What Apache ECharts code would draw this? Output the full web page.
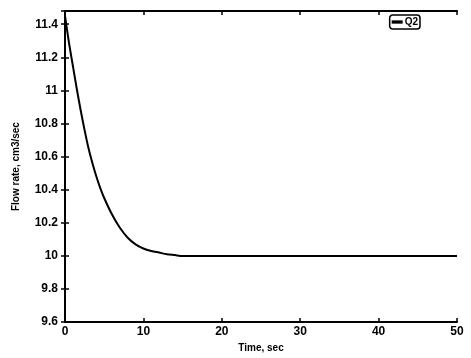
<!DOCTYPE html>
<html>
<head>
<meta charset="utf-8">
<script src="https://cdn.jsdelivr.net/npm/echarts@6/dist/echarts.min.js"></script>
<style>html,body{margin:0;padding:0;background:#fff;}#c{width:471px;height:358px;}</style>
</head>
<body>
<div id="c"></div>
<script>
var timeSec = [0, 0.5, 1, 1.5, 2, 2.5, 3, 3.5, 4, 4.5, 5, 6, 7, 8, 9, 10, 11, 12, 13, 14, 15, 20, 30, 40, 50];
var flowQ2 = [11.45, 11.29, 11.15, 11.01, 10.88, 10.76, 10.65, 10.56, 10.48, 10.41, 10.35, 10.25, 10.17, 10.11, 10.07, 10.045, 10.03, 10.02, 10.01, 10.005, 10.0, 10.0, 10.0, 10.0, 10.0];
var seriesName = 'Q2';
var xTicks = [0, 10, 20, 30, 40, 50];
var yTicks = [9.6, 9.8, 10, 10.2, 10.4, 10.6, 10.8, 11, 11.2, 11.4];

var chart = echarts.init(document.getElementById('c'));
var lbl = {fontFamily: 'Liberation Sans', fontWeight: 'bold', fontSize: 12, color: '#000'};
var pts = timeSec.map(function (t, i) { return [t, flowQ2[i]]; });
chart.setOption({
  animation: false,
  backgroundColor: '#fff',
  grid: {left: 65, right: 14, top: 11, bottom: 33},
  legend: {
    right: 51, top: 15, itemWidth: 11, itemHeight: 6, itemGap: 1, padding: [2, 2],
    borderColor: '#000', borderWidth: 1.5, borderRadius: 3,
    textStyle: {fontFamily: 'Liberation Sans', fontWeight: 'bold', fontSize: 10, color: '#000', padding: [0,0,0,-3]},
    data: [{name: seriesName, icon: 'path://M0,0H1V0.3H0Z'}]
  },
  xAxis: [{
    type: 'value', min: 0, max: 50, interval: 10,
    name: 'Time, sec', nameLocation: 'middle', nameGap: 20,
    nameTextStyle: {fontFamily: 'Liberation Sans', fontWeight: 'bold', fontSize: 10, color: '#000'},
    axisLine: {lineStyle: {color: '#000', width: 2}},
    axisTick: {inside: true, length: 4, lineStyle: {color: '#000', width: 1.5}},
    axisLabel: Object.assign({margin: 4}, lbl),
    splitLine: {show: false}
  }, {
    type: 'value', min: 0, max: 50, interval: 10, position: 'top',
    axisLine: {lineStyle: {color: '#000', width: 2}},
    axisTick: {inside: true, length: 4, lineStyle: {color: '#000', width: 1.5}},
    axisLabel: {show: false}, splitLine: {show: false}
  }],
  yAxis: [{
    type: 'value', min: 9.6, max: 11.48, interval: 0.2,
    name: 'Flow rate, cm3/sec', nameLocation: 'middle', nameGap: 44,
    nameTextStyle: {fontFamily: 'Liberation Sans', fontWeight: 'bold', fontSize: 10, color: '#000'},
    axisLine: {lineStyle: {color: '#000', width: 2}},
    axisTick: {inside: true, length: 4, lineStyle: {color: '#000', width: 1.5}},
    axisLabel: Object.assign({margin: 7, showMaxLabel: false, formatter: function (v) {
      var r = Math.round(v * 10) / 10;
      return yTicks.indexOf(r) >= 0 ? String(r) : '';
    }}, lbl),
    splitLine: {show: false}
  }, {
    type: 'value', min: 9.6, max: 11.48, interval: 0.2, position: 'right',
    axisLine: {lineStyle: {color: '#000', width: 2}},
    axisTick: {inside: true, length: 4, lineStyle: {color: '#000', width: 1.5}},
    axisLabel: {show: false}, splitLine: {show: false}
  }],
  series: [{
    name: seriesName, type: 'line', data: pts, smooth: 0.3, showSymbol: false,
    lineStyle: {color: '#000', width: 2}, itemStyle: {color: '#000'}
  }]
});
</script>
</body>
</html>
